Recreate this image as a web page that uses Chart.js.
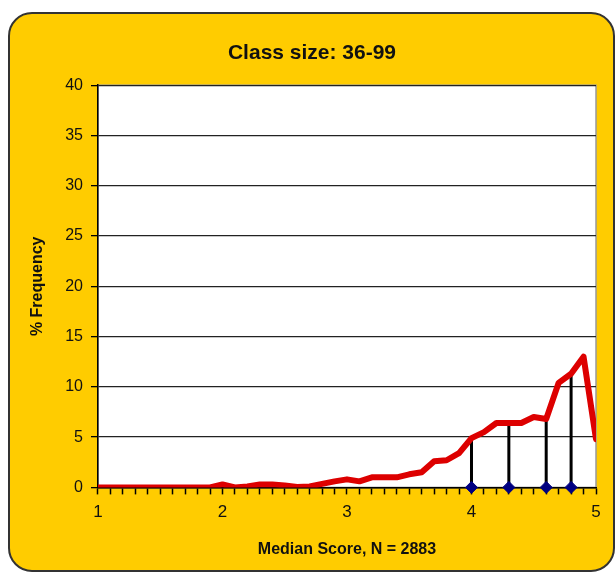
<!DOCTYPE html>
<html>
<head>
<meta charset="utf-8">
<script src="https://cdn.jsdelivr.net/npm/chart.js@4/dist/chart.umd.min.js"></script>
<style>
  body { margin: 0; background: #fff; }
  #card {
    position: absolute; left: 8px; top: 12px; width: 603px; height: 556px;
    background: #FFCC00; border: 2px solid #333; border-radius: 24px;
  }
  #wrap { position: absolute; left: 0; top: 0; width: 616px; height: 573px; }
</style>
</head>
<body>
<div id="card"></div>
<div id="wrap"><canvas id="chart_Class"></canvas></div>
<script>
// median score bins
var scores = [1.0, 1.1, 1.2, 1.3, 1.4, 1.5, 1.6, 1.7, 1.8, 1.9,
  2.0, 2.1, 2.2, 2.3, 2.4, 2.5, 2.6, 2.7, 2.8, 2.9,
  3.0, 3.1, 3.2, 3.3, 3.4, 3.5, 3.6, 3.7, 3.8, 3.9,
  4.0, 4.1, 4.2, 4.3, 4.4, 4.5, 4.6, 4.7, 4.8, 4.9, 5.0];
// % frequency per bin
var freq = [0, 0, 0, 0, 0, 0, 0, 0, 0, 0,
  0.3, 0, 0.1, 0.3, 0.3, 0.2, 0.05, 0.1, 0.35, 0.6,
  0.8, 0.6, 1.0, 1.0, 1.0, 1.3, 1.5, 2.6, 2.7, 3.4,
  4.9, 5.5, 6.4, 6.4, 6.4, 7.0, 6.8, 10.4, 11.3, 13.0, 4.8];
// marker lines
var markX = [4.0, 4.3, 4.6, 4.8];
var markH = [4.9, 6.3, 6.7, 11.3];

function createClassChart() {
  var datasets = [];
  datasets.push({
    label: "Frequency",
    data: scores.map(function (s, i) { return {x: s, y: freq[i]}; }),
    borderColor: "#DD0000",
    borderWidth: 6,
    borderJoinStyle: "round",
    borderCapStyle: "round",
    pointRadius: 0,
    tension: 0,
    order: 1
  });
  for (var i = 0; i < markX.length; i++) {
    datasets.push({
      label: "mark" + i,
      data: [{x: markX[i], y: 0}, {x: markX[i], y: markH[i]}],
      borderColor: "#000",
      borderWidth: 3,
      pointRadius: 0,
      order: 2
    });
  }
  datasets.push({
    label: "marks",
    data: markX.map(function (m) { return {x: m, y: 0}; }),
    showLine: false,
    pointStyle: "rectRot",
    pointRadius: 6,
    backgroundColor: "#000080",
    borderColor: "#000080",
    clip: false,
    order: 0
  });

  var plotBg = {
    id: "plotBg",
    beforeDraw: function (chart) {
      var a = chart.chartArea, ctx = chart.ctx;
      ctx.save();
      ctx.fillStyle = "#fff";
      ctx.fillRect(a.left, a.top, a.right - a.left, a.bottom - a.top);
      ctx.strokeStyle = "#999";
      ctx.lineWidth = 1.5;
      ctx.strokeRect(a.left, a.top, a.right - a.left, a.bottom - a.top);
      ctx.restore();
    }
  };

  new Chart(document.getElementById("chart_Class"), {
    type: "line",
    data: { datasets: datasets },
    plugins: [plotBg],
    options: {
      responsive: true,
      maintainAspectRatio: false,
      animation: false,
      layout: { padding: { left: 28, right: 20, top: 31, bottom: 14 } },
      plugins: {
        legend: { display: false },
        tooltip: { enabled: false },
        title: {
          display: true,
          text: "Class size: 36-99",
          color: "#111",
          font: { family: "Liberation Sans", size: 21, weight: "bold" },
          padding: { top: 10, bottom: 19 }
        }
      },
      scales: {
        x: {
          type: "linear",
          min: 1,
          max: 5,
          offset: false,
          grid: { drawOnChartArea: false, tickLength: 7, tickColor: "#000", tickWidth: 1.5 },
          border: { color: "#000", width: 1.5 },
          ticks: {
            stepSize: 0.1,
            autoSkip: false,
            maxTicksLimit: 60,
            maxRotation: 0,
            padding: 8,
            color: "#111",
            font: { family: "Liberation Sans", size: 17 },
            callback: function (v) {
              return Math.abs(v - Math.round(v)) < 1e-6 ? Math.round(v) : "";
            }
          },
          title: {
            display: true,
            text: "Median Score, N = 2883",
            color: "#111",
            font: { family: "Liberation Sans", size: 16, weight: "bold" },
            padding: { top: 9, bottom: 0 }
          }
        },
        y: {
          min: 0,
          max: 40,
          grid: { color: "#222", lineWidth: 1.3, tickLength: 7, tickColor: "#000" },
          border: { color: "#000", width: 1.5 },
          ticks: {
            stepSize: 5,
            padding: 8,
            color: "#111",
            font: { family: "Liberation Sans", size: 16 }
          },
          title: {
            display: true,
            text: "% Frequency",
            color: "#111",
            font: { family: "Liberation Sans", size: 16, weight: "bold" },
            padding: { top: 0, bottom: 10 }
          }
        }
      }
    }
  });
}

createClassChart();
</script>
</body>
</html>
